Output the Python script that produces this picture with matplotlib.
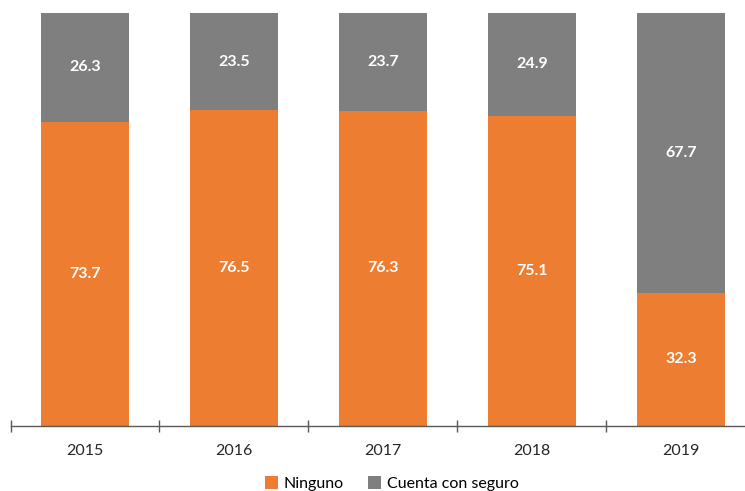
import numpy as np
import matplotlib.pyplot as plt

years = ['2015', '2016', '2017', '2018', '2019']
ninguno = [73.7, 76.5, 76.3, 75.1, 32.3]
con_seguro = [26.3, 23.5, 23.7, 24.9, 67.7]

plt.rcParams['font.family'] = ['Lato', 'DejaVu Sans']

fig = plt.figure(figsize=(7.45, 4.91), dpi=100)
ax = fig.add_axes([10.5 / 745, 65 / 491, 1 - 10.5 / 745, 413 / 491])

x = np.arange(len(years))
b1 = ax.bar(x, ninguno, width=0.59, color='#ED7D31', label='Ninguno')
b2 = ax.bar(x, con_seguro, width=0.59, bottom=ninguno, color='#7F7F7F',
            label='Cuenta con seguro')

for i in range(len(years)):
    ax.text(x[i], ninguno[i] / 2, '%.1f' % ninguno[i], ha='center', va='center',
            color='white', fontsize=11.5, fontweight='bold')
    ax.text(x[i], ninguno[i] + con_seguro[i] / 2, '%.1f' % con_seguro[i],
            ha='center', va='center', color='white', fontsize=11.5, fontweight='bold')

ax.set_yticks([])
for s in ['left', 'right', 'top']:
    ax.spines[s].set_visible(False)
ax.spines['bottom'].set_color('#595959')
ax.spines['bottom'].set_linewidth(1)

ax.set_xticks(x)
ax.set_xticklabels(years, fontsize=11.5, color='#262626')
ax.tick_params(axis='x', which='major', length=0, pad=13)
ax.set_xticks(np.arange(-0.5, 4, 1), minor=True)
ax.tick_params(axis='x', which='minor', length=8, direction='inout',
               color='#595959', width=1)

# limits after ticks, otherwise set_xticks widens them
ax.set_xlim(-0.5, 4.43)
ax.set_ylim(0, 100)

fig.legend(handles=[b1, b2], loc='center', bbox_to_anchor=(0.526, 0.015), ncol=2,
           frameon=False, fontsize=11.5, handlelength=0.8, handleheight=0.8,
           handletextpad=0.4, columnspacing=1.5)

fig.savefig('out.png', dpi=100)
